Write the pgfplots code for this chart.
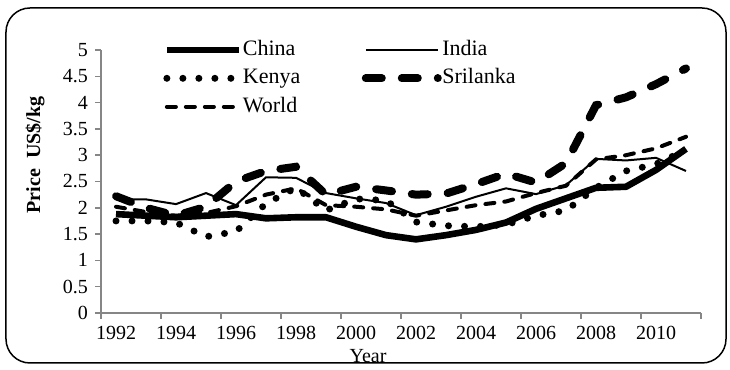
\documentclass[border=0pt]{standalone}
\usepackage{fontspec}
\setmainfont{Liberation Serif}
\usepackage{pgfplots}
\pgfplotsset{compat=1.18}
\definecolor{axisgray}{HTML}{868686}
\begin{document}
\begin{tikzpicture}[font=\fontsize{10bp}{12bp}\selectfont]
\begin{axis}[
  at={(0,0)}, anchor=south west,
  scale only axis, width=300bp, height=131.5bp,
  xmin=1991.5, xmax=2011.5, ymin=0, ymax=5,
  axis x line*=bottom, axis y line*=left,
  axis line style={draw=axisgray, line width=0.75bp},
  xtick={1991.5,1993.5,1995.5,1997.5,1999.5,2001.5,2003.5,2005.5,2007.5,2009.5,2011.5},
  xticklabels={1992,1994,1996,1998,2000,2002,2004,2006,2008,2010,{}},
  x tick label style={xshift=7.5bp},
  ytick={0,0.5,1,1.5,2,2.5,3,3.5,4,4.5,5},
  yticklabels={0,0.5,1,1.5,2,2.5,3,3.5,4,4.5,5},
  tick align=outside, major tick length=3bp,
  tick style={draw=axisgray, line width=0.75bp},
  every tick label/.append style={font=\fontsize{10bp}{12bp}\selectfont, text=black},
  /pgf/number format/assume math mode=true,
  legend columns=2,
  legend cell align=left,
  legend style={draw=none, fill=none, at={(0.1033,1.046)}, anchor=north west,
    inner sep=0pt, row sep=2.75bp,
    nodes={inner xsep=0.25bp, inner ysep=1bp, text height=7.5bp, text depth=2bp},
    /tikz/every even column/.append style={column sep=30.5bp},
    font=\fontsize{11bp}{13bp}\selectfont},
  legend image code/.code={\draw[#1] (0bp,0bp) -- (36bp,0bp);},
]
\addplot[black, line width=3.3bp, line join=round] coordinates {
(1992,1.88) (1993,1.85) (1994,1.82) (1995,1.85) (1996,1.88) (1997,1.80) (1998,1.82) (1999,1.82) (2000,1.64) (2001,1.48)
(2002,1.40) (2003,1.48) (2004,1.58) (2005,1.72) (2006,1.98) (2007,2.18) (2008,2.38) (2009,2.40) (2010,2.72) (2011,3.12)};
\addlegendentry{China}
\addplot[black, line width=1bp, line join=round] coordinates {
(1992,2.16) (1993,2.16) (1994,2.07) (1995,2.28) (1996,2.05) (1997,2.58) (1998,2.57) (1999,2.28) (2000,2.18) (2001,2.09)
(2002,1.86) (2003,2.02) (2004,2.21) (2005,2.37) (2006,2.26) (2007,2.43) (2008,2.93) (2009,2.90) (2010,2.95) (2011,2.70)};
\addlegendentry{India}
\addplot[black, line width=3.5bp, line cap=round, dash pattern=on 0bp off 8bp] coordinates {
(1992,1.75) (1993,1.75) (1994,1.72) (1995,1.45) (1996,1.55) (1997,2.08) (1998,2.38) (1999,1.95) (2000,2.17) (2001,2.14)
(2002,1.73) (2003,1.66) (2004,1.64) (2005,1.68) (2006,1.85) (2007,1.95) (2008,2.38) (2009,2.70) (2010,2.83) (2011,3.10)};
\addlegendentry{Kenya}
\addplot[black, line width=4bp, line cap=round, dash pattern=on 8bp off 10bp] coordinates {
(1992,2.22) (1993,2.00) (1994,1.85) (1995,2.02) (1996,2.50) (1997,2.70) (1998,2.78) (1999,2.25) (2000,2.40) (2001,2.33)
(2002,2.25) (2003,2.27) (2004,2.45) (2005,2.65) (2006,2.48) (2007,2.85) (2008,3.95) (2009,4.10) (2010,4.35) (2011,4.65)};
\addlegendentry{Srilanka}
\addplot[black, line width=2bp, line cap=round, dash pattern=on 4.5bp off 5bp] coordinates {
(1992,2.02) (1993,1.92) (1994,1.85) (1995,1.90) (1996,2.03) (1997,2.25) (1998,2.37) (1999,2.05) (2000,2.02) (2001,1.97)
(2002,1.85) (2003,1.95) (2004,2.05) (2005,2.12) (2006,2.28) (2007,2.42) (2008,2.92) (2009,3.00) (2010,3.13) (2011,3.35)};
\addlegendentry{World}
\end{axis}
\node[rotate=90, font=\fontsize{10bp}{12bp}\selectfont\bfseries] at (-33bp,79bp) {Price\ \ US\$/kg};
\node at (133.5bp,-21.5bp) {Year};
\draw[line width=0.75bp, rounded corners=12bp] (-47.5bp,-25bp) rectangle (312.5bp,152.5bp);
\useasboundingbox (-50.5bp,-27bp) rectangle (314.5bp,156.5bp);
\end{tikzpicture}
\end{document}
